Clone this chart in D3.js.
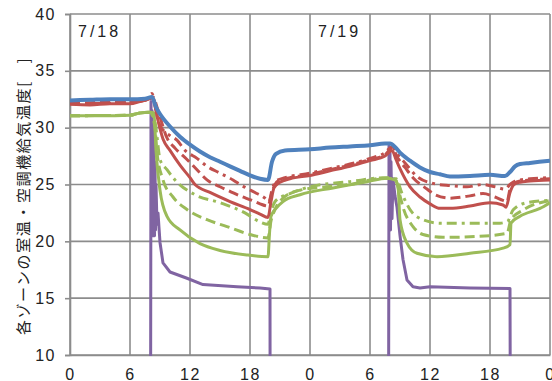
<!DOCTYPE html>
<html>
<head>
<meta charset="utf-8">
<script src="https://cdn.jsdelivr.net/npm/d3@7"></script>
<style>
  html, body { margin: 0; padding: 0; background: #fff; }
  svg { display: block; }
  .tick-label { font-family: "Liberation Sans", Arial, sans-serif; font-size: 16px; fill: #222; letter-spacing: 1.5px; }
  .day-label { font-family: "Liberation Sans", Arial, sans-serif; font-size: 16px; fill: #222; letter-spacing: 3px; }
  .y-title { font-family: "Noto Sans CJK JP", sans-serif; font-size: 15px; fill: #222; letter-spacing: 1.6px; }
</style>
</head>
<body>
<svg id="chart" width="552" height="381"></svg>
<script>
// Elapsed hours over two days (0-48) and temperature in °C
const xTickHours = [0, 6, 12, 18, 24, 30, 36, 42, 48];
const xTickLabels = ["0", "6", "12", "18", "0", "6", "12", "18", "0"];
const yTicks = [10, 15, 20, 25, 30, 35, 40];
const dayLabels = [{ hour: 0, text: "7/18" }, { hour: 24, text: "7/19" }];

// Room temperature, blue zone
const roomBlue = [[0,32.4],[2,32.45],[4,32.5],[6,32.5],[7.5,32.55],[8.2,32.7],[8.6,31.8],[9,31.2],[10,30.1],[11,29.2],[12,28.5],[13,27.9],[14,27.4],[15,27.0],[16,26.6],[17,26.2],[18,25.8],[19,25.5],[19.8,25.4],[20.2,27.0],[20.6,27.7],[21.5,28.0],[24,28.1],[26,28.25],[28,28.35],[30,28.45],[31.5,28.6],[32,28.6],[32.5,28.3],[33,27.8],[34,27.1],[35,26.5],[36,26.1],[37,25.9],[38,25.7],[40,25.75],[42,25.85],[43.5,25.75],[44,26.1],[44.5,26.6],[45,26.8],[46,26.9],[48,27.1]];

// Room temperatures, red zones
const roomRedSolid = [[0,32.05],[2,32.0],[4,32.1],[6,32.1],[7,32.3],[7.8,32.5],[8.3,32.6],[8.7,31.0],[9.3,29.0],[10,28.0],[11,26.7],[12,25.6],[12.5,25.0],[14,24.3],[16,23.5],[18,22.8],[19,22.4],[19.8,22.1],[20.1,23.5],[20.4,24.7],[21,25.2],[22,25.5],[24,25.8],[26,26.2],[28,26.6],[30,27.1],[31.5,27.5],[32.2,28.0],[32.6,27.2],[33,26.4],[34,24.8],[35,23.9],[36,23.3],[37,22.9],[38,22.9],[40,23.1],[42,23.4],[43.3,23.2],[43.6,23.0],[44,24.3],[44.4,25.0],[45,25.2],[46,25.3],[48,25.4]];
const roomRedDash = [[0,32.2],[2,32.2],[4,32.25],[6,32.25],[7.5,32.4],[8.3,32.7],[8.8,31.5],[9.7,29.1],[10.5,28.2],[11.7,27.2],[12.7,26.3],[13.7,25.4],[15,24.8],[16,24.4],[17,24.0],[18.2,23.6],[19,23.3],[19.8,23.1],[20.1,24.0],[20.5,25.0],[21,25.4],[22,25.6],[24,25.9],[26,26.3],[28,26.7],[30,27.2],[31.5,27.6],[32.2,28.2],[32.8,27.3],[33.5,26.5],[34.3,25.6],[35.7,24.6],[36.5,24.1],[38,23.8],[40,24.0],[41.3,24.2],[42.5,23.9],[43.3,23.6],[43.7,23.5],[44,24.6],[44.4,25.1],[45,25.3],[48,25.5]];
const roomRedDot = [[0,32.1],[4,32.15],[7.5,32.4],[8.2,33.0],[8.6,31.5],[9,30.2],[10,29.3],[10.7,28.9],[11.5,28.0],[12.7,27.3],[13.7,26.6],[15,26.0],[16.3,25.4],[17.2,24.9],[18.5,24.3],[19.5,23.8],[19.9,23.5],[20.2,24.5],[20.6,25.3],[21.5,25.6],[24,26.0],[26,26.4],[28,26.8],[30,27.3],[31.5,27.8],[32.2,28.3],[32.8,27.6],[33.5,26.9],[34.7,25.7],[36.3,25.1],[38,24.9],[39.7,24.8],[41.3,25.0],[42.5,24.8],[43.5,24.6],[44,25.0],[44.5,25.3],[46,25.5],[48,25.6]];

// Room temperatures, green zones
const roomGreenSolid = [[0,31.05],[3,31.05],[6,31.1],[7,31.3],[8,31.35],[8.4,31.3],[8.6,28.0],[9,24.5],[9.7,22.2],[11,21.0],[13,19.8],[15,19.2],[17.7,18.8],[19.8,18.65],[19.95,20.7],[20.1,22.2],[20.7,23.0],[21.3,23.5],[23,24.1],[26.3,24.7],[29.7,25.25],[31.7,25.55],[32.5,25.4],[32.8,24.8],[33,21.9],[33.7,19.85],[34.7,18.95],[36.7,18.65],[40,18.95],[43.3,19.4],[44.0,19.7],[44.1,21.6],[45,22.2],[47,22.9],[48,23.4]];
const roomGreenDash = [[0,31.05],[6,31.1],[7,31.3],[8,31.35],[8.5,30.0],[8.7,27.8],[9.3,25.4],[10.3,23.9],[11.7,22.8],[13.7,21.9],[15.7,21.3],[18,20.6],[19.8,20.3],[20.1,21.8],[20.5,22.8],[21.3,23.8],[23,24.5],[25.7,24.8],[28,25.0],[31.3,25.55],[32.5,25.5],[33,24.0],[33.3,23.0],[34.3,21.3],[35.3,20.6],[37.3,20.35],[40,20.4],[43.7,20.7],[44.1,21.9],[45.3,22.75],[48,23.6]];
const roomGreenDot = [[0,31.05],[6,31.1],[7,31.3],[8,31.35],[8.5,30.5],[8.7,29.2],[9,27.2],[9.7,26.3],[10.5,25.4],[12.5,24.1],[15,23.4],[17.5,22.5],[19,21.7],[19.8,21.5],[20.1,22.6],[20.6,23.6],[22,24.2],[24,24.8],[28,25.25],[31.5,25.6],[32.6,25.5],[33.2,24.2],[34,22.8],[35.3,21.9],[37,21.6],[40,21.6],[43,21.6],[43.8,21.8],[44.3,22.75],[45.7,23.4],[48,23.6]];

// Supply air temperature of the air handler (off = below axis)
const supplyAir = [[0,0],[8.05,0],[8.1,32.3],[8.15,21],[8.2,31.5],[8.25,20.5],[8.3,30.5],[8.35,20.5],[8.4,29],[8.45,20.5],[8.5,27],[8.55,21],[8.6,25],[8.7,21.5],[8.8,22.5],[9.0,19.9],[9.3,18.1],[10,17.3],[11.7,16.75],[13.3,16.2],[16.7,16.0],[19,15.9],[20.0,15.8],[20.02,0],[31.85,0],[31.9,28.4],[31.95,21],[32.0,27.8],[32.05,21],[32.1,27],[32.2,22],[32.3,25.5],[32.5,24],[32.7,23],[33.0,20.5],[33.3,18.4],[33.7,16.6],[34.3,16.0],[35,15.9],[36,16.0],[40,15.9],[44.0,15.85],[44.05,0],[48,0]];

const seriesList = [
  { data: supplyAir,      color: "#8064a2", width: 3, dash: null, curve: d3.curveLinear },
  { data: roomGreenSolid, color: "#9bbb59", width: 3, dash: null, curve: d3.curveMonotoneX },
  { data: roomGreenDash,  color: "#9bbb59", width: 3, dash: "10,5", curve: d3.curveMonotoneX },
  { data: roomGreenDot,   color: "#9bbb59", width: 3, dash: "10,5,3,5", curve: d3.curveMonotoneX },
  { data: roomRedDot,     color: "#c0504d", width: 3, dash: "10,5,3,5", curve: d3.curveMonotoneX },
  { data: roomRedDash,    color: "#c0504d", width: 3, dash: "10,5", curve: d3.curveMonotoneX },
  { data: roomRedSolid,   color: "#c0504d", width: 3, dash: null, curve: d3.curveMonotoneX },
  { data: roomBlue,       color: "#4f81bd", width: 4, dash: null, curve: d3.curveMonotoneX }
];

const svg = d3.select("#chart");
const plotLeft = 70, plotRight = 550, plotTop = 14, plotBottom = 355;

const x = d3.scaleLinear().domain([0, 48]).range([plotLeft, plotRight]);
const y = d3.scaleLinear().domain([10, 40]).range([plotBottom, plotTop]);

// gridlines
const grid = svg.append("g").attr("stroke", "#8c8c8c").attr("stroke-width", 1.6);
grid.selectAll("line.h").data(yTicks).join("line")
  .attr("x1", plotLeft).attr("x2", plotRight)
  .attr("y1", d => y(d)).attr("y2", d => y(d));
grid.selectAll("line.v").data(xTickHours).join("line")
  .attr("x1", d => x(d)).attr("x2", d => x(d))
  .attr("y1", plotTop).attr("y2", plotBottom);

// y axis with outward ticks
const yAxis = svg.append("g").attr("transform", `translate(${plotLeft},0)`)
  .call(d3.axisLeft(y).tickValues(yTicks).tickSize(5).tickPadding(9).tickFormat(d3.format("d")));
yAxis.attr("font-family", null).attr("font-size", null);
yAxis.select(".domain").attr("stroke", "#8c8c8c").attr("stroke-width", 1.6);
yAxis.selectAll(".tick line").attr("stroke", "#8c8c8c").attr("stroke-width", 1.6);
yAxis.selectAll(".tick text").attr("class", "tick-label").attr("fill", null);

// x axis
const xAxis = svg.append("g").attr("transform", `translate(0,${plotBottom})`)
  .call(d3.axisBottom(x).tickValues(xTickHours).tickSize(0).tickPadding(14)
    .tickFormat((d, i) => xTickLabels[i]));
xAxis.attr("font-family", null).attr("font-size", null);
xAxis.select(".domain").attr("stroke", "#8c8c8c").attr("stroke-width", 1.6);
xAxis.selectAll(".tick text").attr("class", "tick-label").attr("fill", null);

// day labels
svg.selectAll("text.day").data(dayLabels).join("text")
  .attr("class", "day-label")
  .attr("x", d => x(d.hour) + 8).attr("y", 37)
  .text(d => d.text);

// y axis title
svg.append("text").attr("class", "y-title")
  .attr("transform", "translate(29,196) rotate(-90)")
  .attr("text-anchor", "middle")
  .text("各ゾーンの室温・空調機給気温度[\u3000]");

// clip series to the plot area
svg.append("clipPath").attr("id", "plotClip")
  .append("rect").attr("x", plotLeft).attr("y", plotTop)
  .attr("width", plotRight - plotLeft).attr("height", plotBottom - plotTop + 1);

svg.append("g").attr("clip-path", "url(#plotClip)")
  .selectAll("path").data(seriesList).join("path")
  .attr("d", d => d3.line().x(p => x(p[0])).y(p => y(p[1])).curve(d.curve)(d.data))
  .attr("fill", "none")
  .attr("stroke", d => d.color)
  .attr("stroke-width", d => d.width)
  .attr("stroke-dasharray", d => d.dash)
  .attr("stroke-linejoin", "round");
</script>
</body>
</html>
